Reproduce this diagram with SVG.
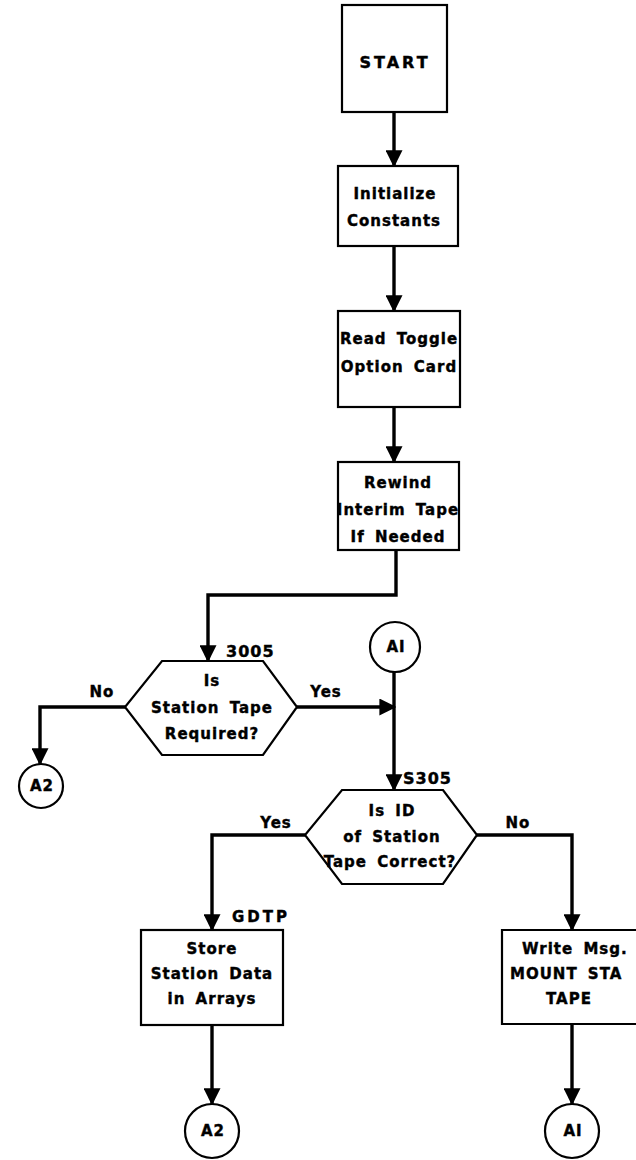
<svg xmlns="http://www.w3.org/2000/svg" width="636" height="1160" viewBox="0 0 636 1160">
<style>
.box{fill:#fff;stroke:#000;stroke-width:2.2}
.ln{fill:none;stroke:#000;stroke-width:3.4}
.t{font-family:"DejaVu Sans",sans-serif;font-weight:bold;font-size:15px;fill:#000;stroke:#000;stroke-width:0.4;text-anchor:middle;letter-spacing:1px;word-spacing:4px}
.tl{font-family:"DejaVu Sans",sans-serif;font-weight:bold;font-size:15px;fill:#000;stroke:#000;stroke-width:0.4;letter-spacing:1px;word-spacing:4px}
</style>
<defs>
<marker id="ah" markerWidth="5" markerHeight="5" refX="4.6" refY="2.5" orient="auto" markerUnits="strokeWidth" viewBox="0 0 5 5">
<path d="M0,0 L5,2.5 L0,5 Z" fill="#000"/>
</marker>
</defs>
<rect width="636" height="1160" fill="#fff"/>
<g id="connectors">
<line class="ln" x1="394" y1="112" x2="394" y2="166" marker-end="url(#ah)"/>
<line class="ln" x1="394" y1="246" x2="394" y2="311" marker-end="url(#ah)"/>
<line class="ln" x1="394" y1="407" x2="394" y2="462" marker-end="url(#ah)"/>
<path class="ln" d="M396,550 V595 H208 V661" marker-end="url(#ah)"/>
<path class="ln" d="M125,707 H40 V764" marker-end="url(#ah)"/>
<line class="ln" x1="297" y1="707" x2="395" y2="707" marker-end="url(#ah)"/>
<line class="ln" x1="394" y1="672" x2="394" y2="790" marker-end="url(#ah)"/>
<path class="ln" d="M305,835 H212 V930" marker-end="url(#ah)"/>
<path class="ln" d="M477,835 H572 V930" marker-end="url(#ah)"/>
<line class="ln" x1="212" y1="1025" x2="212" y2="1104" marker-end="url(#ah)"/>
<line class="ln" x1="572" y1="1024" x2="572" y2="1104" marker-end="url(#ah)"/>
</g>
<g id="start">
<rect class="box" x="342" y="5" width="105" height="107"/>
<text class="t" x="395" y="68" style="font-size:16px;letter-spacing:3px">START</text>
</g>
<g id="init">
<rect class="box" x="338" y="166" width="120" height="80"/>
<text class="t" x="395" y="199">Initialize</text>
<text class="t" x="394" y="226">Constants</text>
</g>
<g id="read">
<rect class="box" x="338" y="311" width="122" height="96"/>
<text class="t" x="399" y="344">Read Toggle</text>
<text class="t" x="399" y="372">Option Card</text>
</g>
<g id="rewind">
<rect class="box" x="338" y="462" width="121" height="88"/>
<text class="t" x="398" y="488">Rewind</text>
<text class="t" x="398" y="515">Interim Tape</text>
<text class="t" x="398" y="542">If Needed</text>
</g>
<g id="d3005">
<polygon class="box" points="162,661 263,661 297,707 263,755 162,755 125,707"/>
<text class="t" x="212" y="686">Is</text>
<text class="t" x="212" y="713">Station Tape</text>
<text class="t" x="212" y="739">Required?</text>
<text class="tl" x="226" y="657" style="font-size:16px">3005</text>
<text class="t" x="102" y="697">No</text>
<text class="t" x="326" y="697">Yes</text>
</g>
<g id="a2left">
<circle class="box" cx="41" cy="786" r="22"/>
<text class="t" x="42" y="791">A2</text>
</g>
<g id="a1top">
<circle class="box" cx="395" cy="647" r="25"/>
<text class="t" x="396" y="652">AI</text>
</g>
<g id="s305">
<polygon class="box" points="342,790 443,790 477,835 443,884 342,884 305,835"/>
<text class="t" x="392" y="816">Is ID</text>
<text class="t" x="392" y="842">of Station</text>
<text class="t" x="390" y="867">Tape Correct?</text>
<text class="tl" x="403" y="784" style="font-size:16px">S305</text>
<text class="t" x="276" y="828">Yes</text>
<text class="t" x="518" y="828">No</text>
</g>
<g id="gdtp">
<rect class="box" x="141" y="930" width="142" height="95"/>
<text class="tl" x="232" y="922" style="letter-spacing:3px">GDTP</text>
<text class="t" x="212" y="954">Store</text>
<text class="t" x="212" y="979">Station Data</text>
<text class="t" x="212" y="1004">in Arrays</text>
</g>
<g id="write">
<path class="box" d="M636,930 H502 V1024 H636"/>
<text class="tl" x="522" y="954">Write Msg.</text>
<text class="tl" x="510" y="979">MOUNT STA</text>
<text class="tl" x="546" y="1004">TAPE</text>
</g>
<g id="a2bottom">
<circle class="box" cx="212" cy="1131" r="27"/>
<text class="t" x="213" y="1136">A2</text>
</g>
<g id="a1bottom">
<circle class="box" cx="572" cy="1131" r="27"/>
<text class="t" x="573" y="1136">AI</text>
</g>
</svg>
